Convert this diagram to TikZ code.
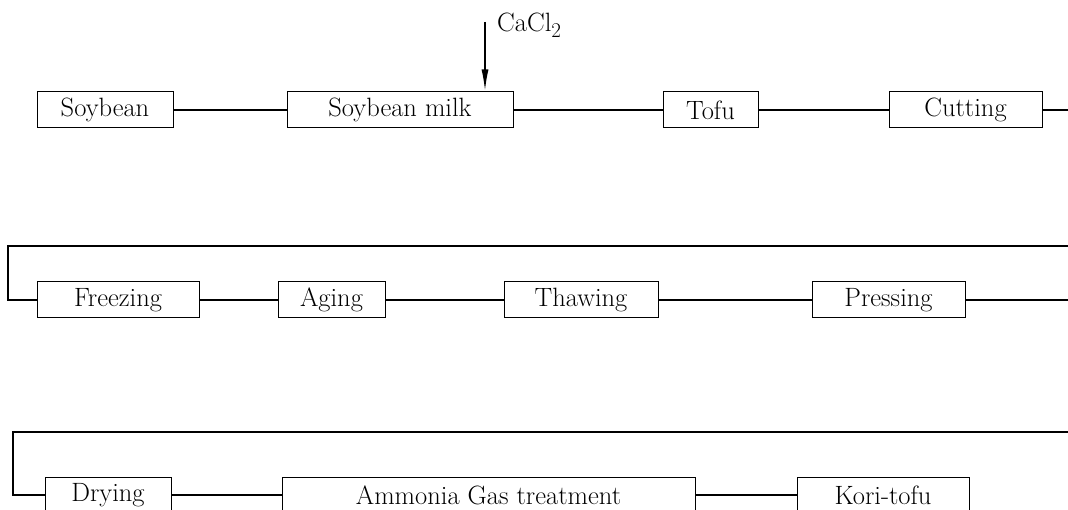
\documentclass[tikz,border=0pt]{standalone}
\usepackage{fontspec}
\usepackage{tikz}
\usetikzlibrary{arrows.meta}

\begin{document}
\begin{tikzpicture}[x=1pt, y=-1pt, every node/.style={font=\fontsize{26.5}{30}\selectfont\addfontfeatures{LetterSpace=5}}, >={Latex[length=22pt, width=7pt]}, stage/.style={draw, line width=1pt, minimum height=36pt, inner sep=0pt}, flow/.style={line width=2.4pt}]
	\useasboundingbox (0,0) rectangle (1068,510);
	\clip (0,0) rectangle (1068,510);
	\node[stage, minimum width=136pt] (soy) at (105,110) {Soybean};
	\node[stage, minimum width=226pt] (milk) at (400,110) {Soybean milk};
	\node[stage, minimum width=95pt] (tofu) at (710.5,110) {Tofu};
	\node[stage, minimum width=153pt] (cut) at (965.5,110) {Cutting};
	\node[anchor=base west, inner sep=0pt] (salt) at (497,32) {CaCl\raisebox{-6pt}{\fontsize{21}{21}\selectfont 2}};
	\coordinate (saltin) at (485,22);
	\coordinate (out1) at (1068,110);
	\draw[flow] (soy) -- (milk); \draw[flow] (milk) -- (tofu); \draw[flow] (tofu) -- (cut); \draw[flow] (cut) -- (out1);
	\draw[->, line width=1.8pt] (saltin) -- (saltin |- milk.north);
	\node[stage, minimum width=162pt] (freeze) at (118,300) {Freezing};
	\node[stage, minimum width=107pt] (aging) at (331.5,300) {Aging};
	\node[stage, minimum width=154pt] (thaw) at (581,300) {Thawing};
	\node[stage, minimum width=153pt] (press) at (888.5,300) {Pressing};
	\coordinate (in2) at (1068,246);
	\coordinate (out2) at (1068,300);
	\draw[flow] (in2) -- (8,246) |- (freeze); \draw[flow] (freeze) -- (aging); \draw[flow] (aging) -- (thaw); \draw[flow] (thaw) -- (press); \draw[flow] (press) -- (out2);
	\node[stage, minimum width=126pt] (dry) at (108,495) {Drying};
	\node[stage, minimum width=413pt] (gas) at (488.5,495) {Ammonia Gas treatment};
	\node[stage, minimum width=172pt] (kori) at (883,495) {Kori-tofu};
	\coordinate (in3) at (1068,432);
	\draw[flow] (in3) -- (13,432) |- (dry); \draw[flow] (dry) -- (gas); \draw[flow] (gas) -- (kori);
\end{tikzpicture}
\end{document}
